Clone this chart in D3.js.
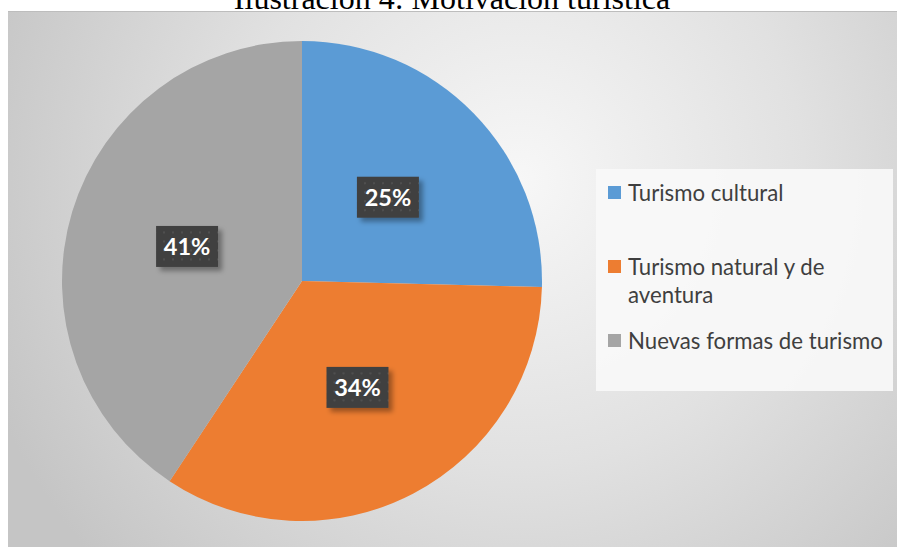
<!DOCTYPE html>
<html>
<head>
<meta charset="utf-8">
<title>Motivación turística</title>
<style>
  body { margin: 0; background: #fff; }
  svg { display: block; }
</style>
</head>
<body>
<script src="https://cdn.jsdelivr.net/npm/d3@7/dist/d3.min.js"></script>
<script>
// data
var categories = ["Turismo cultural", "Turismo natural y de aventura", "Nuevas formas de turismo"];
var shares = [25.4, 33.9, 40.7];
var shareLabels = ["25%", "34%", "41%"];
var colors = ["#5b9bd5", "#ed7d31", "#a5a5a5"];

var W = 897, H = 547;
var cx = 302, cy = 281, radius = 240;

var svg = d3.select("body").append("svg")
    .attr("width", W)
    .attr("height", H);

var defs = svg.append("defs");

// soft grey radial background like the office chart style
var bg = defs.append("radialGradient")
    .attr("id", "bg")
    .attr("gradientUnits", "userSpaceOnUse")
    .attr("cx", 520).attr("cy", 180).attr("r", 570);
bg.append("stop").attr("offset", "0").attr("stop-color", "#f7f7f7");
bg.append("stop").attr("offset", "0.5").attr("stop-color", "#e1e1e1");
bg.append("stop").attr("offset", "1").attr("stop-color", "#c5c5c5");

// dotted dark fill for the data labels
var pat = defs.append("pattern")
    .attr("id", "dots")
    .attr("patternUnits", "userSpaceOnUse")
    .attr("width", 9).attr("height", 9);
pat.append("rect").attr("width", 9).attr("height", 9).attr("fill", "#404040");
pat.append("rect").attr("x", 3).attr("y", 3).attr("width", 2).attr("height", 2).attr("fill", "#505050");

var shadow = defs.append("filter")
    .attr("id", "shadow")
    .attr("x", "-30%").attr("y", "-30%").attr("width", "160%").attr("height", "160%");
shadow.append("feDropShadow")
    .attr("dx", 4).attr("dy", 4).attr("stdDeviation", 2.5)
    .attr("flood-color", "#000").attr("flood-opacity", 0.35);

// title (cut at the top edge, as in the source)
svg.append("text")
    .attr("x", 452).attr("y", 9)
    .attr("text-anchor", "middle")
    .style("font-family", "'Liberation Serif', 'Times New Roman', serif")
    .style("font-size", "32px")
    .attr("fill", "#000")
    .text("Ilustración 4: Motivación turística");

// chart area
svg.append("rect")
    .attr("x", 8).attr("y", 11)
    .attr("width", W - 8).attr("height", H - 11)
    .attr("fill", "url(#bg)");
svg.append("line")
    .attr("x1", 8).attr("x2", W).attr("y1", 11.5).attr("y2", 11.5)
    .attr("stroke", "#bdbdbd");

var pie = d3.pie().sort(null).value(function(d) { return d; });
var arc = d3.arc().innerRadius(0).outerRadius(radius);

var arcs = pie(shares);

var g = svg.append("g")
    .attr("transform", "translate(" + cx + "," + cy + ")");

g.selectAll(".slice")
    .data(arcs)
  .enter().append("path")
    .attr("class", "slice")
    .attr("d", arc)
    .attr("fill", function(d, i) { return colors[i]; });

// data labels
var lab = g.selectAll(".lab")
    .data(arcs)
  .enter().append("g")
    .attr("class", "lab")
    .attr("transform", function(d) {
      var c = arc.centroid(d);
      return "translate(" + c[0] + "," + c[1] + ")";
    });

lab.append("rect")
    .attr("x", -31).attr("y", -20.5)
    .attr("width", 62).attr("height", 41)
    .attr("fill", "url(#dots)")
    .attr("filter", "url(#shadow)");

lab.append("text")
    .attr("text-anchor", "middle")
    .attr("y", 8.5)
    .style("font-family", "Lato, 'Open Sans', sans-serif")
    .style("font-weight", "bold")
    .style("font-size", "23.5px")
    .attr("fill", "#fff")
    .text(function(d, i) { return shareLabels[i]; });

// legend
svg.append("rect")
    .attr("x", 596).attr("y", 169)
    .attr("width", 297).attr("height", 222)
    .attr("fill", "#f9f9f9")
    .attr("fill-opacity", 0.92);

var ly = d3.scalePoint().domain(categories).range([193, 341]);
var legendFont = "Lato, 'Open Sans', sans-serif";
var legendSize = 22;

// fit the font so the longest single line is about as wide as in the source
var probe = svg.append("text")
    .style("font-family", legendFont)
    .style("font-size", legendSize + "px")
    .text("Nuevas formas de turismo");
var probeW = probe.node().getComputedTextLength();
probe.remove();
if (probeW > 0) legendSize = legendSize * 255 / probeW;

var item = svg.selectAll(".legend")
    .data(categories)
  .enter().append("g")
    .attr("class", "legend")
    .attr("transform", function(d) { return "translate(0," + ly(d) + ")"; });

item.append("rect")
    .attr("x", 608).attr("y", -7)
    .attr("width", 13).attr("height", 13)
    .attr("fill", function(d, i) { return colors[i]; });

item.each(function(d) {
  var t = d3.select(this).append("text")
      .attr("x", 628).attr("y", 7.5)
      .style("font-family", legendFont)
      .style("font-size", legendSize + "px")
      .attr("fill", "#3f3f3f");
  // wrap words when the line is wider than the box allows
  var words = d.split(" "), line = [];
  var ts = t.append("tspan").attr("x", 628).attr("dy", 0);
  words.forEach(function(w) {
    line.push(w);
    ts.text(line.join(" "));
    if (ts.node().getComputedTextLength() > 262 && line.length > 1) {
      line.pop();
      ts.text(line.join(" "));
      line = [w];
      ts = t.append("tspan").attr("x", 628).attr("dy", 28).text(w);
    }
  });
});
</script>
</body>
</html>
